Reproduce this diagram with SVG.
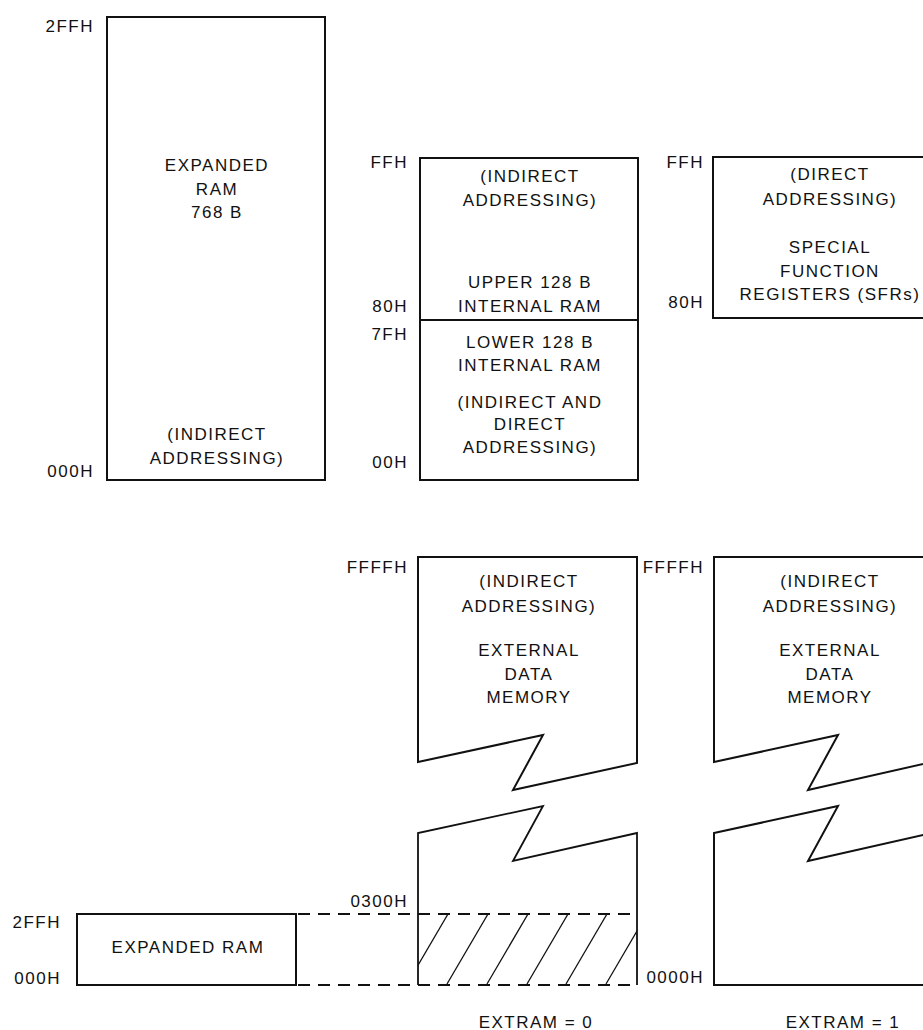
<svg xmlns="http://www.w3.org/2000/svg" width="923" height="1030" viewBox="0 0 923 1030">
<style>
  text { font-family: "Liberation Sans", Arial, sans-serif; font-size: 17px; fill: #111; letter-spacing: 1.5px; }
  .c { text-anchor: middle; }
  .r { text-anchor: end; }
  .box { fill: #fff; stroke: #111; stroke-width: 2; }
  .ln { fill: none; stroke: #111; stroke-width: 1.8; stroke-linejoin: miter; }
  .dash { fill: none; stroke: #111; stroke-width: 2; stroke-dasharray: 12 8; }
  .hatch { stroke: #111; stroke-width: 1.3; }
</style>
<defs>
  <clipPath id="hclip"><rect x="418" y="914" width="219" height="71"/></clipPath>
</defs>
<rect width="923" height="1030" fill="#fff"/>

<g id="expanded-ram-768">
  <rect class="box" x="107" y="17" width="218" height="463"/>
  <text class="r" x="94" y="32">2FFH</text>
  <text class="r" x="94" y="477">000H</text>
  <text class="c" x="217" y="171">EXPANDED</text>
  <text class="c" x="217" y="195">RAM</text>
  <text class="c" x="217" y="218">768 B</text>
  <text class="c" x="217" y="440">(INDIRECT</text>
  <text class="c" x="217" y="464">ADDRESSING)</text>
</g>

<g id="internal-ram">
  <rect class="box" x="420" y="158" width="218" height="322"/>
  <line class="ln" x1="420" y1="320" x2="638" y2="320"/>
  <text class="r" x="408" y="168">FFH</text>
  <text class="r" x="408" y="312">80H</text>
  <text class="r" x="408" y="340">7FH</text>
  <text class="r" x="408" y="468">00H</text>
  <text class="c" x="530" y="182">(INDIRECT</text>
  <text class="c" x="530" y="206">ADDRESSING)</text>
  <text class="c" x="530" y="288">UPPER 128 B</text>
  <text class="c" x="530" y="312">INTERNAL RAM</text>
  <text class="c" x="530" y="348">LOWER 128 B</text>
  <text class="c" x="530" y="371">INTERNAL RAM</text>
  <text class="c" x="530" y="408">(INDIRECT AND</text>
  <text class="c" x="530" y="430">DIRECT</text>
  <text class="c" x="530" y="453">ADDRESSING)</text>
</g>

<g id="sfr">
  <rect class="box" x="713" y="157" width="218" height="161"/>
  <text class="r" x="704" y="168">FFH</text>
  <text class="r" x="704" y="308">80H</text>
  <text class="c" x="830" y="180">(DIRECT</text>
  <text class="c" x="830" y="205">ADDRESSING)</text>
  <text class="c" x="830" y="253">SPECIAL</text>
  <text class="c" x="830" y="277">FUNCTION</text>
  <text class="c" x="830" y="300">REGISTERS (SFRs)</text>
</g>

<g id="expanded-ram-small">
  <rect class="box" x="77" y="914" width="219" height="71"/>
  <text class="r" x="61" y="928">2FFH</text>
  <text class="r" x="61" y="984">000H</text>
  <text class="c" x="188" y="953">EXPANDED RAM</text>
</g>

<g id="external-extram0">
  <path class="box" d="M418,762 L418,557 L637,557 L637,763 L513,790 L543,735 Z"/>
  <g clip-path="url(#hclip)">
    <line class="hatch" x1="407" y1="984" x2="448" y2="914"/>
    <line class="hatch" x1="447" y1="984" x2="488" y2="914"/>
    <line class="hatch" x1="487" y1="984" x2="528" y2="914"/>
    <line class="hatch" x1="527" y1="984" x2="568" y2="914"/>
    <line class="hatch" x1="566" y1="984" x2="607" y2="914"/>
    <line class="hatch" x1="606" y1="984" x2="647" y2="914"/>
  </g>
  <path class="ln" d="M418,985 L418,833 L543,806 L513,861 L637,833 L637,985"/>
  <text class="r" x="408" y="573">FFFFH</text>
  <text class="r" x="408" y="907">0300H</text>
  <text class="c" x="529" y="587">(INDIRECT</text>
  <text class="c" x="529" y="612">ADDRESSING)</text>
  <text class="c" x="529" y="656">EXTERNAL</text>
  <text class="c" x="529" y="680">DATA</text>
  <text class="c" x="529" y="703">MEMORY</text>
  <text class="c" x="536" y="1028">EXTRAM = 0</text>
</g>

<g id="external-extram1">
  <path class="box" d="M714,762 L714,557 L932,557 L932,762 L808,790 L838,735 Z"/>
  <path class="box" d="M714,833 L838,806 L808,861 L932,833 L932,985 L714,985 Z"/>
  <text class="r" x="704" y="573">FFFFH</text>
  <text class="r" x="704" y="983">0000H</text>
  <text class="c" x="830" y="587">(INDIRECT</text>
  <text class="c" x="830" y="612">ADDRESSING)</text>
  <text class="c" x="830" y="656">EXTERNAL</text>
  <text class="c" x="830" y="680">DATA</text>
  <text class="c" x="830" y="703">MEMORY</text>
  <text class="c" x="843" y="1028">EXTRAM = 1</text>
</g>

<g id="connectors">
  <line class="dash" x1="298" y1="914" x2="637" y2="914"/>
  <line class="dash" x1="298" y1="985" x2="637" y2="985"/>
</g>
</svg>
